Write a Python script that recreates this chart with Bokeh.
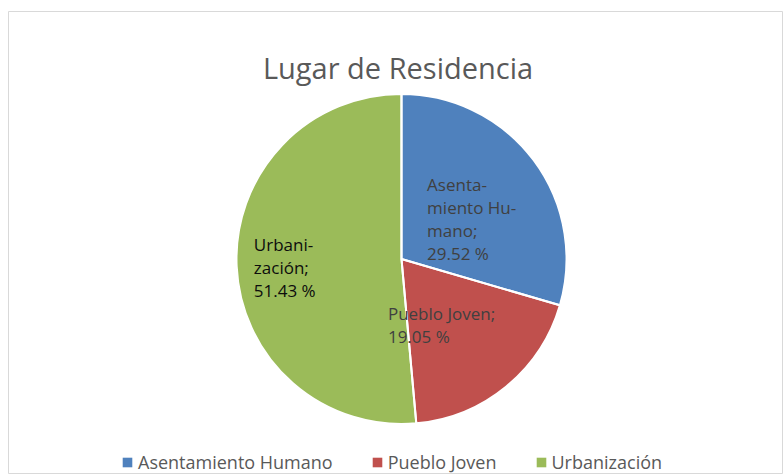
import math
from bokeh.plotting import figure
from bokeh.models import Range1d, ColumnDataSource, Label, Legend, LegendItem
from bokeh.core.properties import value
from bokeh.embed import file_html
from bokeh.resources import INLINE

# ---- data ----
categories = ["Asentamiento Humano", "Pueblo Joven", "Urbanización"]
percentages = [29.52, 19.05, 51.43]
label_texts = ["Asenta-\nmiento Hu-\nmano;\n29.52 %",
               "Pueblo Joven;\n19.05 %",
               "Urbani-\nzación;\n51.43 %"]
colors = ["#4F81BD", "#C0504D", "#9BBB59"]
title_text = "Lugar de Residencia"

# ---- layout ----
W, H = 783, 474
LEFT, TOP = 8, 11
FW, FH = W - LEFT, H - TOP
CX, CY, R = 393, 215.5, 165
label_frac = [0.55, 0.5, 0.55]
label_shift = [(-47, -14), (-66, -2), (-57, -4)]
label_colors = ["#404040", "#404040", "#0D0D0D"]
FONT = "Open Sans"

p = figure(width=W, height=H, output_backend="svg", toolbar_location=None,
           x_range=Range1d(0, FW), y_range=Range1d(0, FH),
           min_border_top=TOP, min_border_left=LEFT, min_border_right=0, min_border_bottom=0)
p.xaxis.visible = False
p.yaxis.visible = False
p.grid.visible = False
p.outline_line_color = "#D9D9D9"
p.outline_line_width = 1
p.background_fill_color = "white"
p.border_fill_color = "white"

total = sum(percentages)
starts, ends, mids = [], [], []
cum = 0.0
for v in percentages:
    a0 = math.pi / 2 - 2 * math.pi * cum / total
    cum += v
    a1 = math.pi / 2 - 2 * math.pi * cum / total
    starts.append(a0)
    ends.append(a1)
    mids.append((a0 + a1) / 2)

fill_renderers = []
for i in range(len(categories)):
    r = p.wedge(x=CX, y=CY, radius=R, start_angle=starts[i], end_angle=ends[i],
                direction="clock", fill_color=colors[i], line_color=None)
    fill_renderers.append(r)
# white slice separators
for i in range(len(categories)):
    p.wedge(x=CX, y=CY, radius=R, start_angle=starts[i], end_angle=ends[i],
            direction="clock", fill_color=None, line_color="white", line_width=2)

lx, ly = [], []
for i, m in enumerate(mids):
    lx.append(CX + label_frac[i] * R * math.cos(m) + label_shift[i][0])
    ly.append(CY + label_frac[i] * R * math.sin(m) + label_shift[i][1])
lsrc = ColumnDataSource(dict(x=lx, y=ly, text=label_texts, color=label_colors))
p.text(x="x", y="y", text="text", source=lsrc, text_color="color",
       text_font=value(FONT), text_font_size="17px", text_align="left",
       text_baseline="middle", text_line_height=1.0)

title = Label(x=389.5, y=FH - 56, x_units="screen", y_units="screen", text=title_text,
              text_font=FONT, text_font_size="29px", text_color="#595959",
              text_align="center", text_baseline="alphabetic")
p.add_layout(title)

legend = Legend(items=[LegendItem(label=categories[i], renderers=[fill_renderers[i]]) for i in range(3)],
                orientation="horizontal", location=(113, 0),
                label_text_font=FONT, label_text_font_size="18px", label_text_color="#595959",
                glyph_width=12, glyph_height=12, label_standoff=5, spacing=38,
                padding=0, margin=0, border_line_color=None, background_fill_alpha=0)
p.add_layout(legend, "center")

open("out.html", "w").write(file_html(p, INLINE))
